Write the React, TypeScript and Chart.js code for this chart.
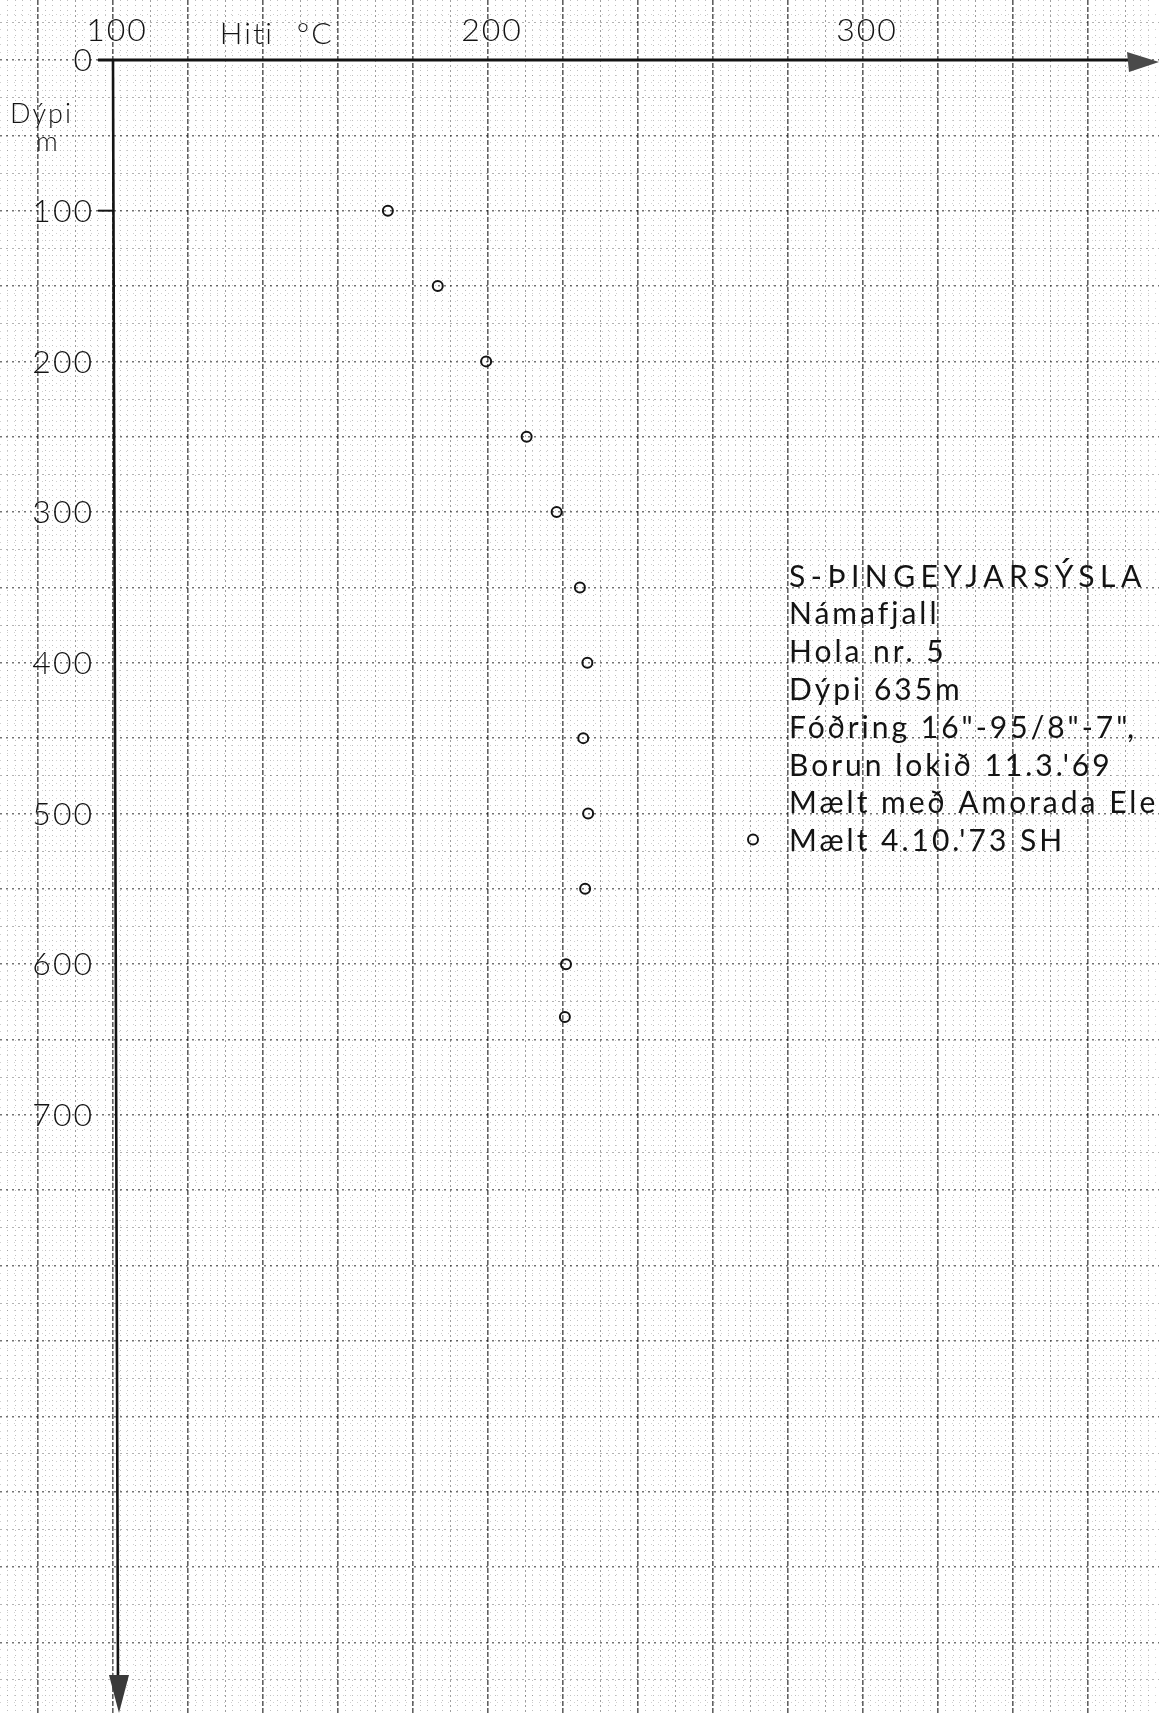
import React, { useEffect, useRef } from "react";
import { Chart, registerables } from "chart.js";

Chart.register(...registerables);

// ---- data ----
const DEPTHS = [100, 150, 200, 250, 300, 350, 400, 450, 500, 550, 600, 635];
const TEMPS = [173.3, 186.6, 199.5, 210.3, 218.3, 224.5, 226.5, 225.4, 226.7, 225.9, 220.8, 220.5];
const X_TICK_LABELS = [100, 200, 300];
const Y_TICK_LABELS = [0, 100, 200, 300, 400, 500, 600, 700];
const X_TITLE = ["Hiti", "°C"];
const Y_TITLE = ["Dýpi", "m"];
const INFO_LINES = [
  "S-ÞINGEYJARSÝSLA",
  "Námafjall",
  "Hola nr. 5",
  "Dýpi 635m",
  'Fóðring 16"-95/8"-7",',
  "Borun lokið 11.3.'69",
  "Mælt með Amorada Ele",
];
const LEGEND_LABEL = "Mælt 4.10.'73 SH";

// scale ranges (paper extent)
const X_MIN = 69.87;
const X_MAX = 378.93;
const Y_MIN = -39.8;
const Y_MAX = 1096.9;

const FONT = "Lato, 'Open Sans', 'DejaVu Sans', sans-serif";
const INK = "#141414";

function gridKind(v: number | undefined, major: number, mid: number, fine: number) {
  if (v === undefined || v === null) return "none";
  const mult = (s: number) => Math.abs(v / s - Math.round(v / s)) < 1e-6;
  if (!mult(fine)) return "none";
  if (mult(major)) return "major";
  if (mult(mid)) return "mid";
  return "fine";
}

const paperPlugin = {
  id: "paper",
  beforeDraw(chart: any) {
    const { ctx, width, height } = chart;
    ctx.save();
    ctx.fillStyle = "#ffffff";
    ctx.fillRect(0, 0, width, height);
    ctx.restore();
  },
  beforeDatasetsDraw(chart: any) {
    const { ctx, width, height } = chart;
    const xs = chart.scales.x;
    const ys = chart.scales.y;
    const x0 = xs.getPixelForValue(100);
    const y0 = ys.getPixelForValue(0);
    ctx.save();
    ctx.strokeStyle = INK;
    ctx.fillStyle = INK;
    ctx.lineWidth = 3;
    // horizontal axis (depth 0)
    ctx.beginPath();
    ctx.moveTo(xs.getPixelForValue(96), y0);
    ctx.lineTo(width - 28, y0);
    ctx.stroke();
    ctx.fillStyle = "#4a4a4a";
    ctx.beginPath();
    ctx.moveTo(width, y0 + 2);
    ctx.lineTo(width - 32, y0 - 8);
    ctx.lineTo(width - 30, y0 + 12);
    ctx.closePath();
    ctx.fill();
    ctx.fillStyle = INK;
    // vertical axis (100 °C)
    ctx.lineWidth = 2.6;
    ctx.beginPath();
    ctx.moveTo(x0, y0);
    ctx.lineTo(x0 + 5, height - 30);
    ctx.stroke();
    ctx.fillStyle = "#3a3a3a";
    ctx.beginPath();
    ctx.moveTo(x0 + 6, height);
    ctx.lineTo(x0 - 4, height - 38);
    ctx.lineTo(x0 + 16, height - 38);
    ctx.closePath();
    ctx.fill();
    // small tick dashes
    ctx.lineWidth = 2;
    [0, 100].forEach((v) => {
      const y = ys.getPixelForValue(v);
      ctx.beginPath();
      ctx.moveTo(xs.getPixelForValue(96), y);
      ctx.lineTo(x0, y);
      ctx.stroke();
    });
    ctx.restore();
  },
  afterDraw(chart: any) {
    const { ctx } = chart;
    const xs = chart.scales.x;
    const ys = chart.scales.y;
    ctx.save();
    ctx.fillStyle = INK;
    ctx.textBaseline = "middle";
    (ctx as any).letterSpacing = "2px";
    ctx.font = `300 32px ${FONT}`;
    // top tick labels
    ctx.textAlign = "center";
    X_TICK_LABELS.forEach((v) => {
      ctx.fillText(String(v), xs.getPixelForValue(v) + 4, 31);
    });
    // x title
    ctx.textAlign = "left";
    ctx.font = `300 30px ${FONT}`;
    ctx.fillText(X_TITLE[0], xs.getPixelForValue(128.5), 34);
    ctx.fillText(X_TITLE[1], xs.getPixelForValue(149), 34);
    // left tick labels
    ctx.font = `300 32px ${FONT}`;
    ctx.textAlign = "right";
    Y_TICK_LABELS.forEach((v) => {
      ctx.fillText(String(v), 94, ys.getPixelForValue(v) + 1);
    });
    // y title
    ctx.textAlign = "left";
    ctx.font = `300 27px ${FONT}`;
    ctx.fillText(Y_TITLE[0], 10, 114);
    ctx.fillText(Y_TITLE[1], 36, 142);
    // info block
    ctx.font = `400 30px ${FONT}`;
    const left = 789;
    const top = 577;
    const step = 37.8;
    INFO_LINES.forEach((t, i) => {
      (ctx as any).letterSpacing = i === 0 ? "5.5px" : "3px";
      ctx.fillText(t, left, top + i * step);
    });
    (ctx as any).letterSpacing = "3px";
    const ly = top + INFO_LINES.length * step;
    ctx.fillText(LEGEND_LABEL, left, ly);
    // legend marker
    ctx.strokeStyle = INK;
    ctx.lineWidth = 2;
    ctx.beginPath();
    ctx.arc(left - 36, ly - 2, 5, 0, Math.PI * 2);
    ctx.stroke();
    ctx.restore();
  },
};

export default function App() {
  const ref = useRef<HTMLCanvasElement | null>(null);
  useEffect(() => {
    if (!ref.current) return;
    const points = DEPTHS.map((d, i) => ({ x: TEMPS[i], y: d }));
    const xGrid = (c: any) => gridKind(c.tick?.value, 20, 10, 2);
    const yGrid = (c: any) => gridKind(c.tick?.value, 50, 25, 5);
    const chart = new Chart(ref.current, {
      type: "scatter",
      data: {
        datasets: [
          {
            label: LEGEND_LABEL,
            data: points,
            pointStyle: "circle",
            pointRadius: 5,
            pointBorderWidth: 2,
            borderColor: INK,
            backgroundColor: "rgba(255,255,255,0)",
            showLine: false,
          },
        ],
      },
      options: {
        animation: false,
        responsive: false,
        maintainAspectRatio: false,
        layout: { padding: 0, autoPadding: false },
        plugins: { legend: { display: false }, tooltip: { enabled: false } },
        scales: {
          x: {
            type: "linear",
            position: "top",
            min: X_MIN,
            max: X_MAX,
            ticks: { display: false, stepSize: 2 },
            border: {
              display: false,
              dash: (c: any) => {
                const k = xGrid(c);
                return k === "major" ? [5, 2] : k === "mid" ? [2, 3] : [1, 4];
              },
            },
            grid: {
              drawTicks: false,
              color: (c: any) => {
                const k = xGrid(c);
                if (k === "major") return "rgba(0,0,0,0.62)";
                if (k === "mid") return "rgba(0,0,0,0.38)";
                if (k === "fine") return "rgba(0,0,0,0.26)";
                return "rgba(0,0,0,0)";
              },
              lineWidth: (c: any) => {
                const k = xGrid(c);
                return k === "major" ? 1.6 : 1;
              },
            },
          },
          y: {
            type: "linear",
            reverse: true,
            min: Y_MIN,
            max: Y_MAX,
            ticks: { display: false, stepSize: 5 },
            border: {
              display: false,
              dash: (c: any) => {
                const k = yGrid(c);
                return k === "major" ? [2, 4] : k === "mid" ? [2, 4] : [1, 6];
              },
            },
            grid: {
              drawTicks: false,
              color: (c: any) => {
                const k = yGrid(c);
                if (k === "major") return "rgba(0,0,0,0.55)";
                if (k === "mid") return "rgba(0,0,0,0.3)";
                if (k === "fine") return "rgba(0,0,0,0.18)";
                return "rgba(0,0,0,0)";
              },
              lineWidth: (c: any) => {
                const k = yGrid(c);
                return k === "major" ? 1.5 : 1;
              },
            },
          },
        },
      },
      plugins: [paperPlugin],
    });
    return () => chart.destroy();
  }, []);
  return (
    <div style={{ position: "absolute", left: 0, top: 0, width: 1159, height: 1713, overflow: "hidden" }}>
      <canvas ref={ref} width={1159} height={1713} style={{ display: "block" }} />
    </div>
  );
}
